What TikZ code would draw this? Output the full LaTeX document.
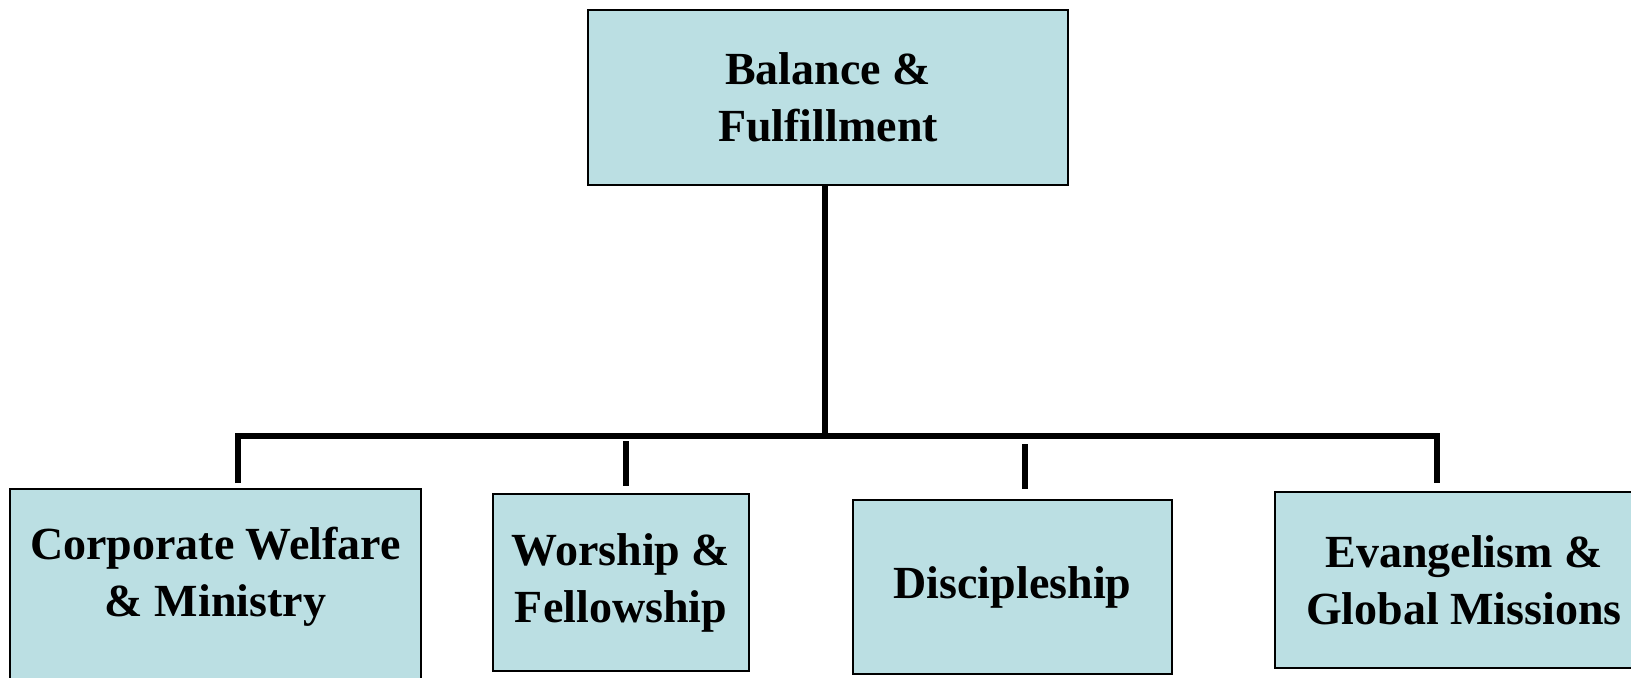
\documentclass[tikz,border=0pt]{standalone}
\usepackage{fontspec}
\setmainfont{Liberation Serif}
\newlength{\du}
\setlength{\du}{0.5pt}
\definecolor{unitcolor}{rgb}{0.733, 0.875, 0.890}
\tikzset{
  unittext/.style={align=center, inner sep=0pt, font=\bfseries\fontsize{23}{28.5}\selectfont},
  unit/.style={unittext, draw=black, fill=unitcolor, line width=2\du},
  branch/.style={draw=black, line width=5.5\du, line join=miter}
}
\begin{document}
\begin{tikzpicture}
\pgftransformxscale{1.000000}
\pgftransformyscale{-1.000000}
\useasboundingbox (0\du,0\du) rectangle (1631\du,678\du);
% top box
\node[unit, minimum width=480\du, minimum height=175\du] (balance) at (828\du,97.5\du) {Balance \&\\Fulfillment};
% lower boxes
\node[unit, minimum width=411\du, minimum height=211\du,
  label={[unittext, yshift=17.5\du]center:{Corporate Welfare\\\& Ministry}}] (corporate) at (215.5\du,594.5\du) {};
\node[unit, minimum width=256\du, minimum height=177\du] (worship) at (621\du,582.5\du) {Worship \&\\Fellowship};
\node[unit, minimum width=319\du, minimum height=174\du] (discipleship) at (1012.5\du,587\du) {Discipleship};
\node[unit, minimum width=378\du, minimum height=176\du] (evangelism) at (1464\du,580\du) {Evangelism \&\\Global Missions};
% connectors
\coordinate (trunk) at (825\du,185\du);
\coordinate (barW) at (238\du,436\du);
\coordinate (barE) at (1437\du,436\du);
\coordinate (tickWor) at (626\du,441\du);
\coordinate (tickDis) at (1025\du,444\du);
\draw[branch] (trunk |- balance.south) -- (trunk |- barW);
\draw[branch, shorten <=5\du, shorten >=8\du] (barW |- corporate.north) -- (barW) -- (barE) -- (barE |- evangelism.north);
\draw[branch, shorten >=7\du] (tickWor) -- (tickWor |- worship.north);
\draw[branch, shorten >=10\du] (tickDis) -- (tickDis |- discipleship.north);
\end{tikzpicture}
\end{document}
